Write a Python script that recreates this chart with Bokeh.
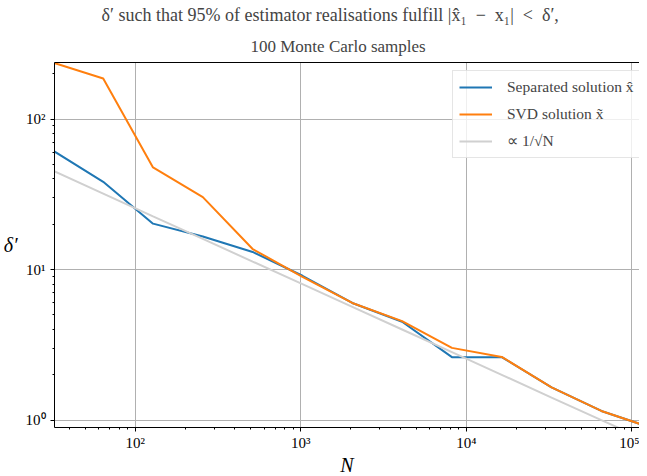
from bokeh.plotting import figure
from bokeh.models import FixedTicker, Title, LogAxis
from bokeh.embed import file_html
from bokeh.resources import INLINE

# Data
N = [32, 64, 128, 256, 512, 1024, 2048, 4096, 8192, 16384, 32768, 65536, 131072]
separated = [61.5, 38.3, 20.2, 16.6, 13.1, 9.1, 6.0, 4.5, 2.62, 2.62, 1.65, 1.15, 0.89]
svd = [237.0, 186.0, 47.7, 30.3, 13.7, 8.95, 6.0, 4.55, 3.02, 2.63, 1.65, 1.15, 0.89]
ref_line = [45.3, 32.0, 22.6, 16.0, 11.3, 8.0, 5.66, 4.0, 2.83, 2.0, 1.41, 1.0, 0.71]

x_major = [100, 1000, 10000, 100000]
x_major_labels = ["10²", "10³", "10⁴", "10⁵"]
y_major = [1, 10, 100]
y_major_labels = ["10⁰", "10¹", "10²"]

x_minor = [m * d for d in (10, 100, 1000, 10000) for m in range(2, 10)] + [200000]
y_minor = [m * d for d in (1, 10, 100) for m in range(2, 10)]

FONT = "Liberation Serif"

p = figure(x_axis_type="log", y_axis_type="log",
           x_range=(32.5, 111400), y_range=(0.893, 237.7),
           frame_width=585, frame_height=365,
           min_border_left=46, min_border_right=0, min_border_top=0, min_border_bottom=0,
           output_backend="svg", toolbar_location=None, title=None)

p.line(N, separated, line_color="#1f77b4", line_width=2, legend_label="Separated solution x\u0302")
p.line(N, svd, line_color="#ff7f0e", line_width=2, legend_label="SVD solution x\u0303")
p.line(N, ref_line, line_color="#d0d0d0", line_width=2, legend_label="\u221d 1/\u221aN")

for ax, major, labels, minor in ((p.xaxis[0], x_major, x_major_labels, x_minor),
                                 (p.yaxis[0], y_major, y_major_labels, y_minor)):
    ax.ticker = FixedTicker(ticks=major, minor_ticks=minor)
    ax.major_label_overrides = {t: l for t, l in zip(major, labels)}
    ax.major_label_text_font = FONT
    ax.major_label_text_font_size = "15px"
    ax.major_label_text_color = "black"
    ax.major_tick_in = 0
    ax.major_tick_out = 4
    ax.minor_tick_in = 0
    ax.minor_tick_out = 2
    ax.axis_line_color = "black"
    ax.major_tick_line_color = "black"
    ax.minor_tick_line_color = "black"
    ax.axis_label_text_font = FONT
    ax.axis_label_text_font_style = "italic"
    ax.axis_label_text_font_size = "20px"
    ax.axis_label_text_color = "black"

p.xaxis.axis_label = "N"
p.xaxis.major_label_standoff = 3
p.xaxis.axis_label_standoff = 0
p.yaxis.axis_label = "\u03b4\u2032"
p.yaxis.axis_label_orientation = "horizontal"
p.yaxis.major_label_standoff = 5
p.yaxis.axis_label_standoff = 5
p.yaxis.major_label_orientation = "horizontal"

p.xgrid.grid_line_color = "#b0b0b0"
p.ygrid.grid_line_color = "#b0b0b0"
p.xgrid.grid_line_width = 1
p.ygrid.grid_line_width = 1

p.outline_line_color = None

top = LogAxis(ticker=FixedTicker(ticks=[]), major_tick_out=0, minor_tick_out=0,
              major_label_text_font_size="0px", major_label_standoff=0,
              axis_line_color="black")
p.add_layout(top, "above")

t2 = Title(text="100 Monte Carlo samples", align="left", offset=196, text_font=FONT,
           text_font_size="17px", text_font_style="normal", standoff=14)
t1 = Title(text="\u03b4\u2032 such that 95% of estimator realisations fulfill |x\u0302\u2081\u2002\u2212\u2002x\u2081|\u2002<\u2002\u03b4\u2032,",
           align="left", offset=47, text_font=FONT, text_font_size="18px",
           text_font_style="normal", standoff=5)
p.add_layout(t2, "above")
p.add_layout(t1, "above")

leg = p.legend[0]
leg.location = (398, 269)
leg.margin = 0
leg.label_text_font = FONT
leg.label_text_font_size = "15.5px"
leg.border_line_color = "#cccccc"
leg.border_line_width = 1
leg.background_fill_alpha = 0.8
leg.glyph_width = 33
leg.glyph_height = 20
leg.label_height = 20
leg.spacing = 7
leg.padding = 6
leg.label_standoff = 15

open("out.html", "w").write(file_html(p, INLINE))
